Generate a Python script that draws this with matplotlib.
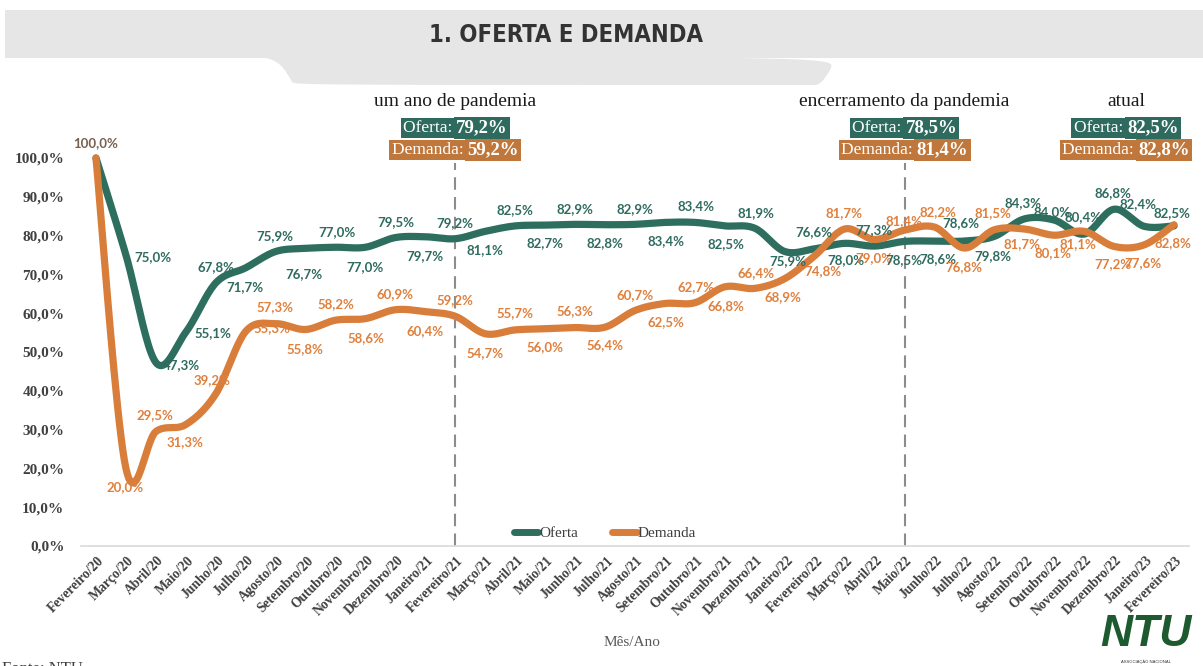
import numpy as np
import matplotlib
matplotlib.use("Agg")
import matplotlib.pyplot as plt
import matplotlib.transforms as mtransforms
from matplotlib import font_manager as fm
from matplotlib.path import Path
from matplotlib.patches import PathPatch, Rectangle
from matplotlib.lines import Line2D

# ---------------- data ----------------
meses = ["Fevereiro/20", "Março/20", "Abril/20", "Maio/20", "Junho/20", "Julho/20",
         "Agosto/20", "Setembro/20", "Outubro/20", "Novembro/20", "Dezembro/20",
         "Janeiro/21", "Fevereiro/21", "Março/21", "Abril/21", "Maio/21", "Junho/21",
         "Julho/21", "Agosto/21", "Setembro/21", "Outubro/21", "Novembro/21",
         "Dezembro/21", "Janeiro/22", "Fevereiro/22", "Março/22", "Abril/22", "Maio/22",
         "Junho/22", "Julho/22", "Agosto/22", "Setembro/22", "Outubro/22", "Novembro/22",
         "Dezembro/22", "Janeiro/23", "Fevereiro/23"]
oferta = [100.0, 75.0, 47.3, 55.1, 67.8, 71.7, 75.9, 76.7, 77.0, 77.0, 79.5, 79.7,
          79.2, 81.1, 82.5, 82.7, 82.9, 82.8, 82.9, 83.4, 83.4, 82.5, 81.9, 75.9,
          76.6, 78.0, 77.3, 78.5, 78.6, 78.6, 79.8, 84.3, 84.0, 80.4, 86.8, 82.4, 82.5]
demanda = [100.0, 20.0, 29.5, 31.3, 39.2, 55.3, 57.3, 55.8, 58.2, 58.6, 60.9, 60.4,
           59.2, 54.7, 55.7, 56.0, 56.3, 56.4, 60.7, 62.5, 62.7, 66.8, 66.4, 68.9,
           74.8, 81.7, 79.0, 81.4, 82.2, 76.8, 81.5, 81.7, 80.1, 81.1, 77.2, 77.6, 82.8]
marcos = ["um ano de pandemia", "encerramento da pandemia", "atual"]
marcos_idx = [12, 27, 36]
y_ticks = [0, 10, 20, 30, 40, 50, 60, 70, 80, 90, 100]

# ---------------- style / layout ----------------
W, H = 1203, 666
GREEN = "#2E6E5E"
ORANGE = "#D97D3A"
GREEN_TXT = "#2F6B5F"
ORANGE_TXT = "#E0803D"
BOX_GREEN = "#2E6B5E"
BOX_ORANGE = "#BF773B"
GRAY_TXT = "#404040"

# label offsets in pixels (dx right, dy down)
off_o = [(0, -15), (27, 2), (26, 3), (27, 1), (0, -16), (-1, 19), (-1, -15), (-2, 26),
         (1, -15), (0, 20), (0, -15), (0, 19), (0, -16), (0, 19), (0, -16), (0, 18),
         (0, -15), (0, 18), (0, -15), (1, 19), (1, -16), (1, 18), (1, -15), (3, 10),
         (-1, -17), (1, 17), (-1, -16), (-1, 19), (3, 18), (-4, -18), (-1, 20),
         (-1, -16), (-2, -8), (-1, -17), (-1, -16), (-6, -22), (-2, -13)]
off_d = [(0, -15), (-1, 19), (-1, -16), (-1, 18), (-4, -14), (26, -3), (-1, -17),
         (-1, 20), (0, -16), (0, 19), (0, -16), (0, 19), (0, -16), (0, 19), (0, -17),
         (0, 18), (0, -16), (0, 18), (0, -15), (1, 19), (1, -16), (1, 19), (1, -15),
         (-2, 18), (8, 15), (-1, -16), (-1, 19), (-1, -9), (3, -15), (-1, 19),
         (-1, -17), (-2, 15), (-1, 18), (-6, 13), (-1, 18), (-1, 18), (-1, 18)]
marcos_x = [12, 27, 34.4]


def fmt(v):
    return f"{v:.1f}".replace(".", ",") + "%"


def smooth(xs, ys, n=20):
    P = np.column_stack([xs, ys]).astype(float)
    out = []
    m = len(P)
    for i in range(m - 1):
        p0 = P[i - 1] if i > 0 else P[i]
        p1, p2 = P[i], P[i + 1]
        p3 = P[i + 2] if i + 2 < m else P[i + 1]
        c1 = p1 + (p2 - p0) / 6.0
        c2 = p2 - (p3 - p1) / 6.0
        t = np.linspace(0, 1, n, endpoint=(i == m - 2))[:, None]
        out.append((1 - t) ** 3 * p1 + 3 * (1 - t) ** 2 * t * c1
                   + 3 * (1 - t) * t ** 2 * c2 + t ** 3 * p2)
    B = np.vstack(out)
    return B[:, 0], B[:, 1]


def title_font():
    cands = []
    for f in fm.fontManager.ttflist:
        nm = f.name.lower()
        st = str(f.stretch).lower()
        if "condensed" in nm or "narrow" in nm or "condensed" in st:
            if f.style == "normal":
                w = f.weight if isinstance(f.weight, (int, float)) else 400
                cands.append((abs(w - 700), f.fname))
    if cands:
        cands.sort()
        return fm.FontProperties(fname=cands[0][1], size=26)
    return fm.FontProperties(family="Roboto", weight="bold", size=26)


fig = plt.figure(figsize=(W / 100, H / 100), dpi=100)
fig.patch.set_facecolor("white")

pix = mtransforms.Affine2D().scale(1 / W, -1 / H).translate(0, 1) + fig.transFigure

# header banner
fig.patches.append(Rectangle((5, 10), W - 5, 48, transform=pix, facecolor="#E6E6E6",
                             edgecolor="none", zorder=0))
tab = Path([(255, 57), (280, 57), (285, 70), (292, 82), (296, 85), (300, 85),
            (815, 85), (819, 85), (823, 82), (830, 70), (835, 57), (860, 57),
            (255, 57)],
           [Path.MOVETO, Path.CURVE4, Path.CURVE4, Path.CURVE4, Path.CURVE4, Path.CURVE4,
            Path.LINETO, Path.CURVE4, Path.CURVE4, Path.CURVE4, Path.CURVE4, Path.CURVE4,
            Path.CLOSEPOLY])
fig.patches.append(PathPatch(tab, transform=pix, facecolor="#E6E6E6", edgecolor="none",
                             zorder=0))
tfp = title_font()
ttl = fig.text(566 / W, 1 - 35 / H, "1. OFERTA E DEMANDA", fontproperties=tfp,
               color="#333333", ha="center", va="center")

# axes
ax = fig.add_axes([81 / W, 1 - 546 / H, 1108 / W, 426.8 / H])
x = np.arange(len(meses))
ax.set_xlim(-0.5, len(meses) - 0.5)
ax.set_ylim(0, 110)
for s in ["top", "right", "left"]:
    ax.spines[s].set_visible(False)
ax.spines["bottom"].set_color("#D9D9D9")
ax.spines["bottom"].set_linewidth(1.2)
ax.set_yticks(y_ticks)
ax.set_yticklabels([f"{t:.1f}".replace(".", ",") + "%" for t in y_ticks],
                   family="Liberation Serif", weight="bold", fontsize=11, color=GRAY_TXT)
ax.tick_params(axis="y", length=0, pad=12)
ax.set_xticks(x)
ax.set_xticklabels(meses, rotation=45, ha="right", va="center", rotation_mode="anchor",
                   family="Liberation Serif", weight="bold", fontsize=9.8, color=GRAY_TXT)
ax.tick_params(axis="x", length=0, pad=9)
shift_x = mtransforms.ScaledTranslation(6 / 100, 0, fig.dpi_scale_trans)
for lab in ax.get_xticklabels():
    lab.set_transform(lab.get_transform() + shift_x)

# dashed milestone lines
for xi in marcos_x[:2]:
    ax.axvline(xi, ymin=0, ymax=(546 - 163) / 426.8, color="#8C8C8C", lw=1.5,
               ls=(0, (6, 3.5)), zorder=1)

# lines
xo, yo = smooth(x, oferta)
xd, yd = smooth(x, demanda)
ax.plot(xo, yo, color=GREEN, lw=5.2, solid_capstyle="round", zorder=3)
ax.plot(xd, yd, color=ORANGE, lw=5.2, solid_capstyle="round", zorder=4)

lab_font = dict(family="Lato", weight="bold", fontsize=9.5)
for i in range(1, len(meses)):
    dx, dy = off_o[i]
    ax.annotate(fmt(oferta[i]), (x[i], oferta[i]), xytext=(dx, -dy),
                textcoords="offset pixels", ha="center", va="center",
                color=GREEN_TXT, zorder=5, **lab_font)
    dx, dy = off_d[i]
    ax.annotate(fmt(demanda[i]), (x[i], demanda[i]), xytext=(dx, -dy),
                textcoords="offset pixels", ha="center", va="center",
                color=ORANGE_TXT, zorder=2 if i == 5 else 5, **lab_font)
dx, dy = off_o[0]
ax.annotate(fmt(oferta[0]), (x[0], oferta[0]), xytext=(dx, -dy),
            textcoords="offset pixels", ha="center", va="center", color="#76604F",
            zorder=5, **lab_font)

# legend
handles = [Line2D([], [], color=GREEN, lw=5, solid_capstyle="round"),
           Line2D([], [], color=ORANGE, lw=5, solid_capstyle="round")]
leg = ax.legend(handles, ["Oferta", "Demanda"], loc="center",
                bbox_to_anchor=((605 - 81) / 1108, 13 / 426.8), ncol=2, frameon=False,
                handlelength=1.6, handletextpad=0.1, columnspacing=2.2,
                prop=dict(family="Liberation Serif", size=11))
for t in leg.get_texts():
    t.set_color(GRAY_TXT)

# milestone annotations
blend = mtransforms.blended_transform_factory(ax.transData, fig.transFigure)
fig.canvas.draw()
renderer = fig.canvas.get_renderer()

# fit title width
tw = ttl.get_window_extent(renderer).width
if tw > 0:
    tfp.set_size(tfp.get_size_in_points() * min(1.0, 275.0 / tw))
    ttl.set_fontproperties(tfp)

for nome, xi, idx in zip(marcos, marcos_x, marcos_idx):
    ax.text(xi, 1 - 102 / H, nome, transform=blend, ha="center", va="center",
            family="Liberation Serif", fontsize=14, color="#1A1A1A")
    for row, (lbl, val, col) in enumerate([("Oferta: ", oferta[idx], BOX_GREEN),
                                            ("Demanda: ", demanda[idx], BOX_ORANGE)]):
        yy = 1 - (128 + row * 22) / H
        t1 = ax.text(xi, yy, lbl, transform=blend, ha="right", va="center",
                     family="Liberation Serif", fontsize=12.5, color="white",
                     bbox=dict(boxstyle="square,pad=0.12", fc=col, ec="none"))
        t2 = ax.text(xi, yy, fmt(val), transform=blend, ha="left", va="center",
                     family="Liberation Serif", weight="bold", fontsize=13.5,
                     color="white",
                     bbox=dict(boxstyle="square,pad=0.12", fc=col, ec="none"))
        w1 = t1.get_window_extent(renderer).width
        w2 = t2.get_window_extent(renderer).width
        shift = (w1 - w2) / 2.0
        off = mtransforms.ScaledTranslation(shift / 100.0, 0, fig.dpi_scale_trans)
        t1.set_transform(blend + off)
        t2.set_transform(blend + off)

# bottom texts
fig.text(632 / W, 1 - 643 / H, "Mês/Ano", family="Liberation Serif", fontsize=11,
         color="#595959", ha="center", va="center")
fig.text(2 / W, 1 - 661 / H, "Fonte: NTU", family="Liberation Serif", fontsize=12,
         color="#404040", ha="left", va="top")
fig.text(1146 / W, 1 - 634 / H, "NTU", family="Liberation Sans", weight="bold",
         style="italic", fontsize=32, color="#1E5A30", ha="center", va="center")
fig.text(1146 / W, 1 - 662 / H, "ASSOCIAÇÃO NACIONAL", family="Liberation Sans",
         fontsize=3, color="#333333", ha="center", va="center")

fig.savefig("out.png", dpi=100)
